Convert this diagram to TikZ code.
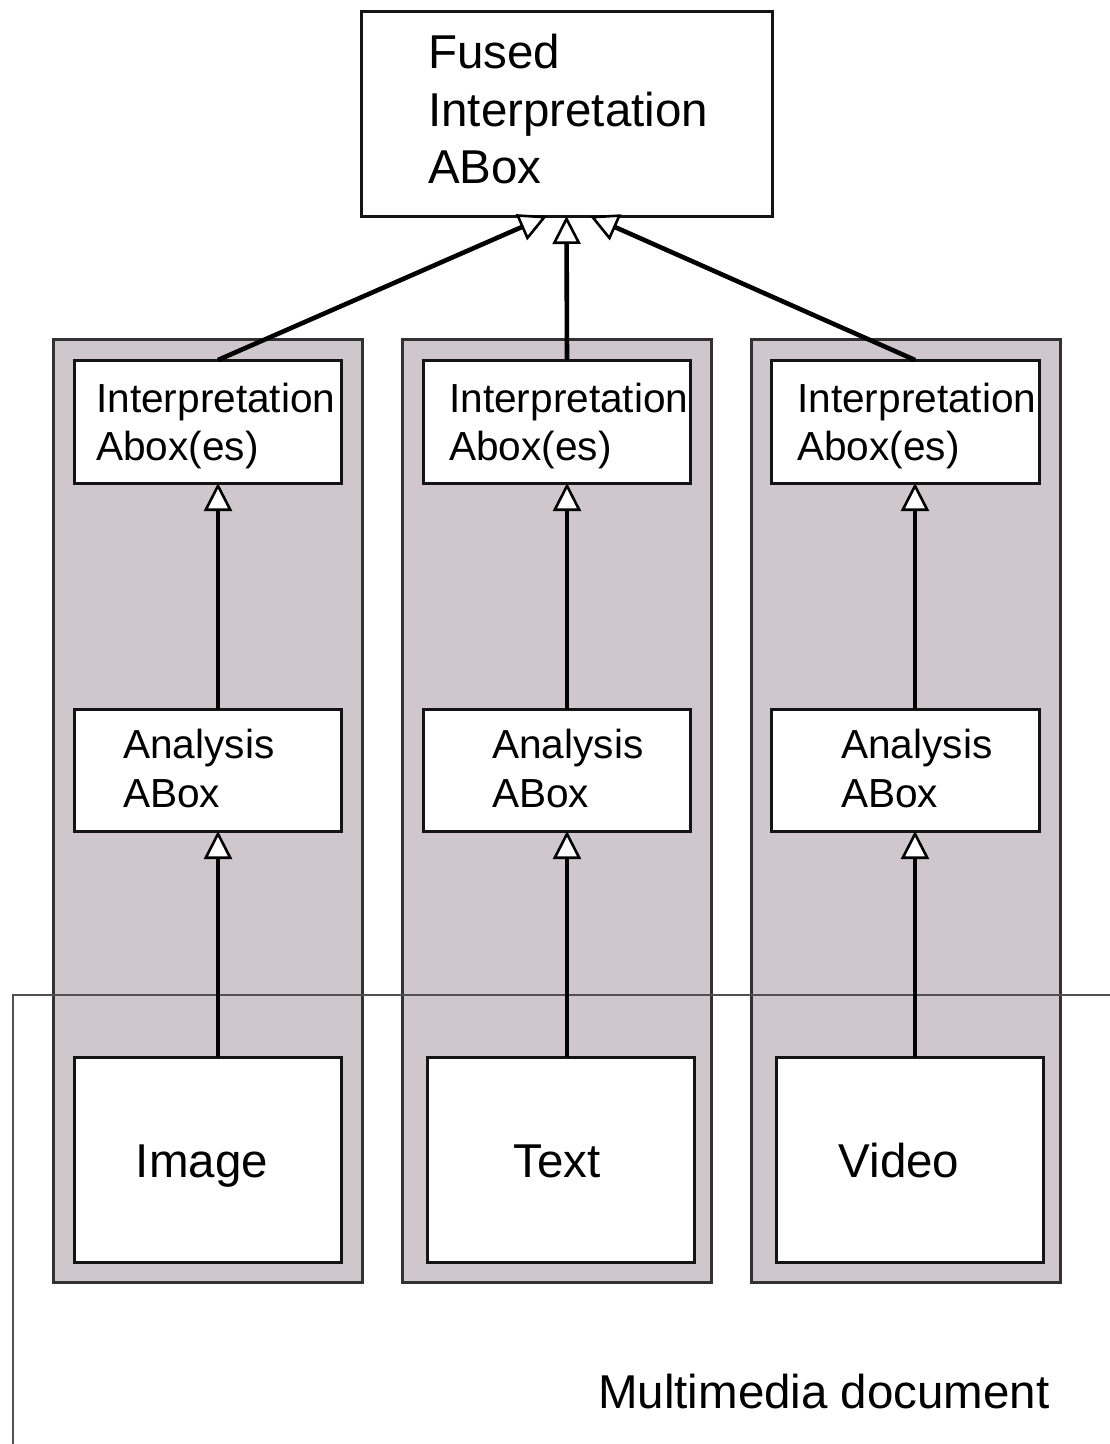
\documentclass[tikz,border=0pt]{standalone}
\usepackage{fontspec}
\setmainfont{Liberation Sans}
\usetikzlibrary{arrows.meta}

\definecolor{panelfill}{RGB}{207,199,203}
\definecolor{panelline}{RGB}{50,50,50}
\definecolor{boxline}{RGB}{20,20,20}
\definecolor{frameline}{RGB}{80,80,80}

\begin{document}
\begin{tikzpicture}[x=1pt,y=-1pt,
  panel/.style={draw=panelline, line width=3pt, fill=panelfill, anchor=north west,
                inner sep=0pt, outer sep=0pt, minimum width=309pt, minimum height=943pt},
  box/.style={draw=boxline, line width=3pt, fill=white, anchor=north west,
              inner sep=0pt, outer sep=0pt},
  conn/.style={line width=4.6pt, -{Triangle[width=28pt, length=28pt, fill=white, line width=2.6pt]}},
  big/.style={font=\fontsize{47.5}{56}\selectfont, anchor=base west, inner sep=0pt},
  small/.style={font=\fontsize{40.6}{48}\selectfont, anchor=base west, inner sep=0pt},
]
\clip (0,0) rectangle (1110,1444);
\fill[white] (0,0) rectangle (1110,1444);

% grey columns, one per medium
\node[panel] (colA) at (53,339) {};
\node[panel] (colB) at (402,339) {};
\node[panel] (colC) at (751,339) {};

% the multimedia document frame (open to the right and below)
\node[draw=frameline, line width=2.6pt, anchor=north west, inner sep=0pt, outer sep=0pt,
      minimum width=1120pt, minimum height=450pt] (doc) at (13,995) {};
\node[big] (doclabel) at (598,1408) {Multimedia document};

% fused interpretation
\node[box, minimum width=411pt, minimum height=205pt] (fused) at (361,11) {};
\node[big] (fusedA) at (428,68) {Fused};
\node[big] (fusedB) at (428,126) {Interpretation};
\node[big] (fusedC) at (428,183) {ABox};

% interpretation aboxes
\node[box, minimum width=267pt, minimum height=123pt] (intA) at (74,360) {};
\node[box, minimum width=267pt, minimum height=123pt] (intB) at (423,360) {};
\node[box, minimum width=268pt, minimum height=123pt] (intC) at (771,360) {};
\node[small] (intA1) at (96,412) {Interpretation};
\node[small] (intA2) at (96,460) {Abox(es)};
\node[small] (intB1) at (449,412) {Interpretation};
\node[small] (intB2) at (449,460) {Abox(es)};
\node[small] (intC1) at (797,412) {Interpretation};
\node[small] (intC2) at (797,460) {Abox(es)};

% analysis aboxes
\node[box, minimum width=267pt, minimum height=122pt] (anaA) at (74,709) {};
\node[box, minimum width=267pt, minimum height=122pt] (anaB) at (423,709) {};
\node[box, minimum width=268pt, minimum height=122pt] (anaC) at (771,709) {};
\node[small] (anaA1) at (123,758) {Analysis};
\node[small] (anaA2) at (123,807) {ABox};
\node[small] (anaB1) at (492,758) {Analysis};
\node[small] (anaB2) at (492,807) {ABox};
\node[small] (anaC1) at (841,758) {Analysis};
\node[small] (anaC2) at (841,807) {ABox};

% media boxes
\node[box, minimum width=267pt, minimum height=205pt] (image) at (74,1057) {};
\node[box, minimum width=267pt, minimum height=205pt] (text) at (427,1057) {};
\node[box, minimum width=267pt, minimum height=205pt] (video) at (776,1057) {};
\node[big, anchor=base] (imageL) at (202,1177) {Image};
\node[big, anchor=base] (textL) at (557,1177) {Text};
\node[big, anchor=base] (videoL) at (899,1177) {Video};

% connectors
\draw[conn] ([xshift=10.5pt]image.north) -- ([xshift=10.5pt]anaA.south);
\draw[conn] ([xshift=6.5pt]text.north) -- ([xshift=10.5pt]anaB.south);
\draw[conn] ([xshift=5.5pt]video.north) -- ([xshift=10pt]anaC.south);
\draw[conn] ([xshift=10.5pt]anaA.north) -- ([xshift=10.5pt]intA.south);
\draw[conn] ([xshift=10.5pt]anaB.north) -- ([xshift=10.5pt]intB.south);
\draw[conn] ([xshift=10pt]anaC.north) -- ([xshift=10pt]intC.south);
\draw[conn] ([xshift=10.5pt]intA.north) -- ([xshift=-19.5pt]fused.south);
\draw[conn] ([xshift=10.5pt]intB.north) -- (fused.south);
\draw[conn] ([xshift=10pt]intC.north) -- ([xshift=23.5pt]fused.south);
\end{tikzpicture}
\end{document}
